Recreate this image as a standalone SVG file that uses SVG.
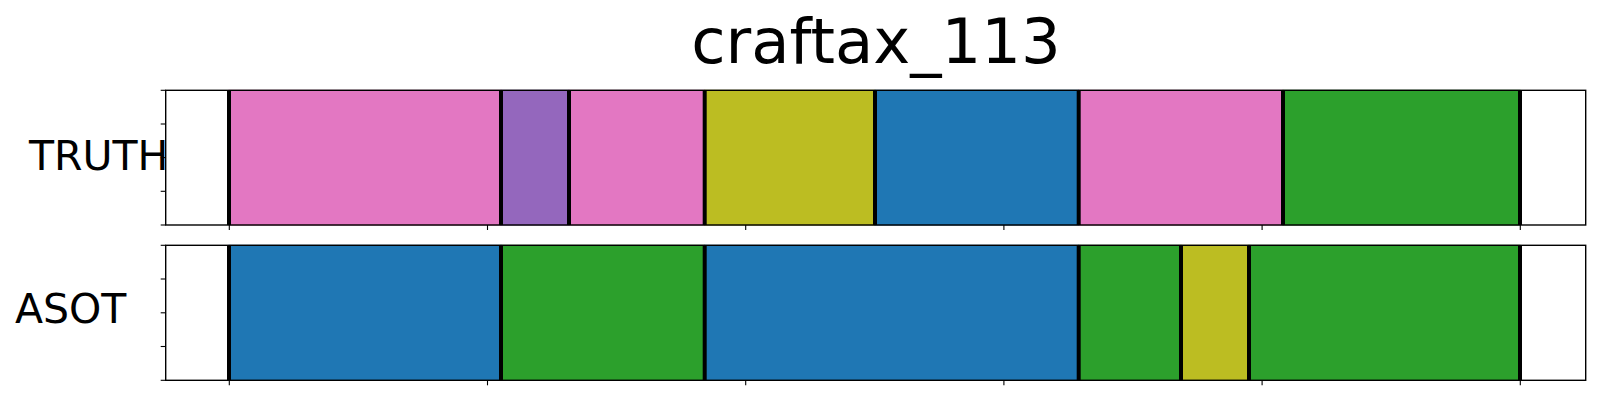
<svg xmlns="http://www.w3.org/2000/svg" width="1600" height="400" viewBox="0 0 1600 400">
<style>
text{font-family:"DejaVu Sans","Liberation Sans",sans-serif;fill:#000}
.sp{fill:none;stroke:#000;stroke-width:1.4}
.tk{stroke:#000;stroke-width:1.1}
.bd{stroke:#000;stroke-width:4}
.pk{fill:#e377c2;stroke:#c9669f;stroke-width:1}
.pu{fill:#9467bd;stroke:#7d55a3;stroke-width:1}
.ol{fill:#bcbd22;stroke:#9e9f1c;stroke-width:1}
.bl{fill:#1f77b4;stroke:#1a6498;stroke-width:1}
.gr{fill:#2ca02c;stroke:#248624;stroke-width:1}
</style>
<rect width="1600" height="400" fill="#fff"/>
<text x="876" y="62.7" font-size="62.5" text-anchor="middle">craftax_113</text>
<g id="truth">
<text x="29" y="170" font-size="41">TRUTH</text>
<rect class="pk" x="229" y="90.3" width="272" height="134.7"/>
<rect class="pu" x="501" y="90.3" width="68" height="134.7"/>
<rect class="pk" x="569" y="90.3" width="135.7" height="134.7"/>
<rect class="ol" x="704.7" y="90.3" width="170.3" height="134.7"/>
<rect class="bl" x="875" y="90.3" width="203.7" height="134.7"/>
<rect class="pk" x="1078.7" y="90.3" width="204.3" height="134.7"/>
<rect class="gr" x="1283" y="90.3" width="237" height="134.7"/>
<g class="bd">
<line x1="229" y1="90.3" x2="229" y2="225"/><line x1="501" y1="90.3" x2="501" y2="225"/><line x1="569" y1="90.3" x2="569" y2="225"/><line x1="704.7" y1="90.3" x2="704.7" y2="225"/><line x1="875" y1="90.3" x2="875" y2="225"/><line x1="1078.7" y1="90.3" x2="1078.7" y2="225"/><line x1="1283" y1="90.3" x2="1283" y2="225"/><line x1="1520" y1="90.3" x2="1520" y2="225"/>
</g>
<rect class="sp" x="165.7" y="90.3" width="1420" height="134.7"/>
<g class="tk">
<line x1="160.7" y1="90.3" x2="165.7" y2="90.3"/><line x1="160.7" y1="124" x2="165.7" y2="124"/><line x1="160.7" y1="157.6" x2="165.7" y2="157.6"/><line x1="160.7" y1="191.3" x2="165.7" y2="191.3"/><line x1="160.7" y1="225" x2="165.7" y2="225"/>
<line x1="229.3" y1="225" x2="229.3" y2="230"/><line x1="487.5" y1="225" x2="487.5" y2="230"/><line x1="745.7" y1="225" x2="745.7" y2="230"/><line x1="1003.9" y1="225" x2="1003.9" y2="230"/><line x1="1262.1" y1="225" x2="1262.1" y2="230"/><line x1="1520.3" y1="225" x2="1520.3" y2="230"/>
</g>
</g>
<g id="asot">
<text x="15" y="323.3" font-size="41">ASOT</text>
<rect class="bl" x="229" y="245.3" width="272" height="135"/>
<rect class="gr" x="501" y="245.3" width="203.7" height="135"/>
<rect class="bl" x="704.7" y="245.3" width="374" height="135"/>
<rect class="gr" x="1078.7" y="245.3" width="102.3" height="135"/>
<rect class="ol" x="1181" y="245.3" width="68" height="135"/>
<rect class="gr" x="1249" y="245.3" width="271" height="135"/>
<g class="bd">
<line x1="229" y1="245.3" x2="229" y2="380.3"/><line x1="501" y1="245.3" x2="501" y2="380.3"/><line x1="704.7" y1="245.3" x2="704.7" y2="380.3"/><line x1="1078.7" y1="245.3" x2="1078.7" y2="380.3"/><line x1="1181" y1="245.3" x2="1181" y2="380.3"/><line x1="1249" y1="245.3" x2="1249" y2="380.3"/><line x1="1520" y1="245.3" x2="1520" y2="380.3"/>
</g>
<rect class="sp" x="165.7" y="245.3" width="1420" height="135"/>
<g class="tk">
<line x1="160.7" y1="245.3" x2="165.7" y2="245.3"/><line x1="160.7" y1="279" x2="165.7" y2="279"/><line x1="160.7" y1="312.8" x2="165.7" y2="312.8"/><line x1="160.7" y1="346.5" x2="165.7" y2="346.5"/><line x1="160.7" y1="380.3" x2="165.7" y2="380.3"/>
<line x1="229.3" y1="380.3" x2="229.3" y2="385.3"/><line x1="487.5" y1="380.3" x2="487.5" y2="385.3"/><line x1="745.7" y1="380.3" x2="745.7" y2="385.3"/><line x1="1003.9" y1="380.3" x2="1003.9" y2="385.3"/><line x1="1262.1" y1="380.3" x2="1262.1" y2="385.3"/><line x1="1520.3" y1="380.3" x2="1520.3" y2="385.3"/>
</g>
</g>
</svg>
